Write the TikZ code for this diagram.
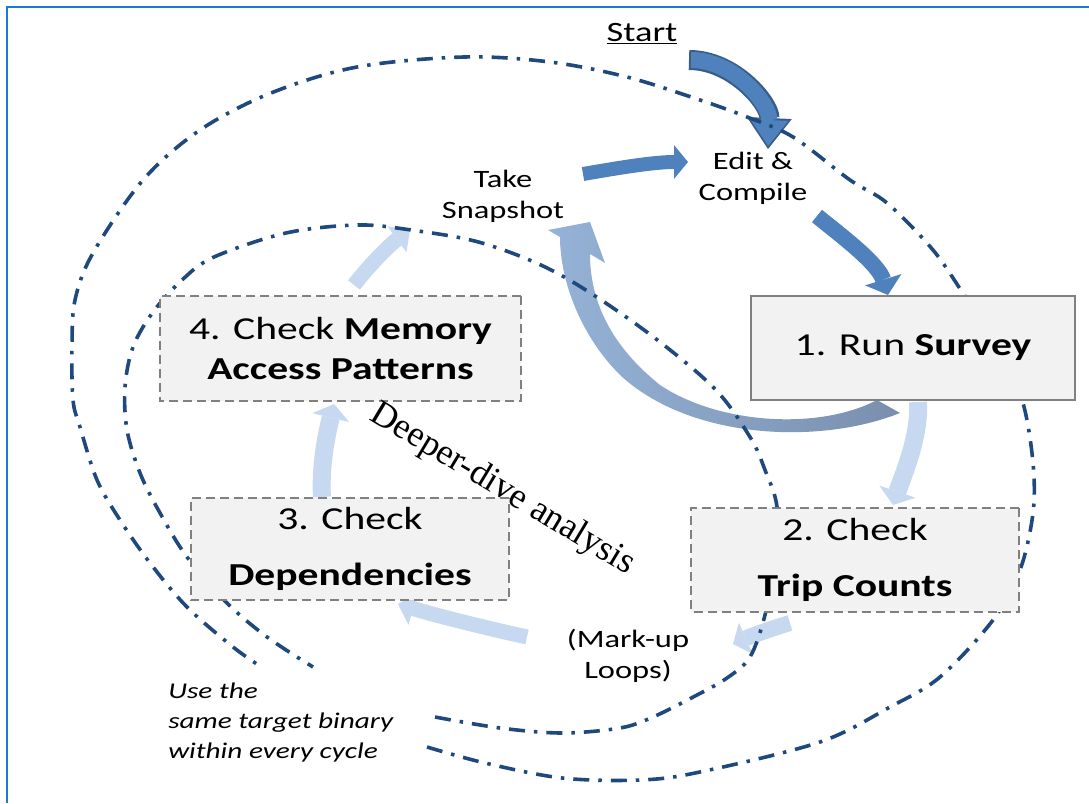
\documentclass[tikz,border=0pt]{standalone}
\usepackage{fontspec}
\setmainfont{Carlito}
\newfontfamily\deepfont{Liberation Serif}
\usetikzlibrary{arrows.meta,backgrounds}

\definecolor{frameblue}{RGB}{30,120,215}
\definecolor{darkarrow}{HTML}{4F81BD}
\definecolor{darkedge}{HTML}{385D8A}
\definecolor{lightarrow}{HTML}{C6D9F1}
\definecolor{fadehead}{HTML}{95B3D7}
\definecolor{fadetail}{HTML}{7A8FAE}
\definecolor{loopblue}{HTML}{1F497D}
\definecolor{boxfill}{HTML}{F2F2F2}
\definecolor{boxline}{HTML}{808080}

\tikzset{
  wide/.style={xscale=1.3},
  lbl/.style={wide, align=center, inner sep=0pt, font=\fontsize{25}{31}\selectfont},
  stepbox/.style={wide, draw=boxline, fill=boxfill, line width=2pt, align=center, inner sep=0pt,
    font=\fontsize{32}{40}\selectfont},
  dashbox/.style={stepbox, dash pattern=on 9pt off 5pt},
  loopline/.style={loopblue, line width=3.6pt, dash pattern=on 16pt off 9pt on 3.5pt off 9pt},
  blockarr/.style n args={3}{line width=#1, -{Triangle[width=#2, length=#3, line width=0pt]}},
}

\begin{document}
\begin{tikzpicture}[x=1pt, y=-1pt]
\useasboundingbox (0,0) rectangle (1089,803);
\draw[frameblue, line width=2.2pt] (7,803) -- (7,7) -- (1089,7);

% steps of the cycle
\node[stepbox, minimum width=249pt, minimum height=104pt] (survey) at (913,348) {1. Run \textbf{Survey}};
\node[dashbox, minimum width=252pt, minimum height=104pt] (trip) at (855,560) {2. Check\\[16pt]\textbf{Trip Counts}};
\node[dashbox, minimum width=245pt, minimum height=102pt] (dep) at (350,549) {3. Check\\[16pt]\textbf{Dependencies}};
\node[dashbox, minimum width=278pt, minimum height=105pt] (mem) at (340.5,348.5) {4. Check \textbf{Memory}\\\textbf{Access Patterns}};

% labels
\node[lbl, font=\fontsize{28}{34}\selectfont] (start) at (642,34) {\underline{Start}};
\node[lbl] (edit) at (753,178) {Edit \&\\Compile};
\node[lbl] (snap) at (503,196) {Take\\Snapshot};
\node[lbl] (markup) at (628,656) {(Mark-up\\Loops)};
\node[lbl, font=\fontsize{22.5}{30}\selectfont\itshape, align=left, anchor=west] (binary) at (168,722)
  {Use the\\same target binary\\within every cycle};
\node[font=\deepfont\fontsize{36}{40}\selectfont, rotate=-31, anchor=base, inner sep=0pt] (deeper) at (498,497) {Deeper-dive analysis};

\begin{scope}[on background layer]
% arrows
\draw[darkedge, blockarr={20pt}{45pt}{31pt}] ([shift={(47,26)}]start.center) .. controls +(45,0) and +(2,-45) .. ([shift={(15,-29)}]edit.center);
\draw[darkarrow, blockarr={16pt}{38pt}{26pt}, shorten <=2pt, shorten >=3pt] ([shift={(47,26)}]start.center) .. controls +(45,0) and +(2,-45) .. ([shift={(15,-29)}]edit.center);
\draw[darkarrow, blockarr={14pt}{34pt}{14pt}] ([shift={(80,-22)}]snap.center) .. controls +(35,-6) and +(-35,0) .. ([shift={(-65,-16)}]edit.center);
\draw[darkarrow, blockarr={16pt}{38pt}{16pt}] ([shift={(64,38)}]edit.center) .. controls +(22,18) and +(-10,-32) .. ([shift={(-25,-53)}]survey.center);
\shade[left color=fadehead, right color=fadetail] (877,400) -- (900,413) .. controls (820,445) and (690,440) .. (620,375)
  .. controls (580,335) and (560,280) .. (560,237) -- (548,230) -- (590,222) -- (605,263) -- (590,254)
  .. controls (590,300) and (610,345) .. (660,385) .. controls (720,425) and (820,430) .. (877,400) -- cycle;
\draw[lightarrow, blockarr={18pt}{38pt}{14pt}] ([shift={(5,54)}]survey.center) .. controls +(2,35) and +(10,-30) .. ([shift={(38,-55)}]trip.center);
\draw[lightarrow, blockarr={16pt}{34pt}{14pt}] ([shift={(-65,63)}]trip.center) .. controls +(-20,6) and +(18,-8) .. ([shift={(105,-12)}]markup.center);
\draw[lightarrow, blockarr={15pt}{34pt}{16pt}] ([shift={(-101,-19)}]markup.center) .. controls +(-45,-10) and +(40,12) .. ([shift={(48,55)}]dep.center);
\draw[lightarrow, blockarr={18pt}{38pt}{14pt}] ([shift={(-28,-52)}]dep.center) .. controls +(-2,-35) and +(-6,25) .. ([shift={(-6.5,55.5)}]mem.center);
\draw[lightarrow, blockarr={15pt}{32pt}{16pt}] ([shift={(13.5,-63.5)}]mem.center) .. controls +(14,-18) and +(-22,16) .. ([shift={(-93,34)}]snap.center);

% the two dash-dot loops
\draw[loopline] plot[smooth, tension=0.55] coordinates {(427,747) (485,763) (562,778) (640,780) (700,772) (820,742)
  (890,707) (940,677) (993,620) (1020,570) (1033,513) (1033,463) (1023,403) (1000,345) (965,296) (933,250)
  (887,203) (850,180) (793,137) (747,117) (700,100) (627,77) (550,62) (464,57) (357,67) (271,93) (200,130)
  (143,180) (93,253) (75,300) (72,347) (73,400) (80,427) (97,480) (120,520) (150,563) (187,607) (233,647) (263,668)};
\draw[loopline] plot[smooth, tension=0.55] coordinates {(435,717) (500,728) (562,733) (620,728) (653,717) (697,695)
  (727,678) (750,657) (765,615) (775,560) (777,507) (765,470) (750,437) (713,387) (640,327) (557,273) (482,243)
  (411,230) (357,225) (286,233) (214,257) (182,280) (153,312) (133,347) (125,387) (127,430) (140,473) (160,513)
  (187,557) (227,603) (267,637) (313,667)};
\end{scope}
\end{tikzpicture}
\end{document}
